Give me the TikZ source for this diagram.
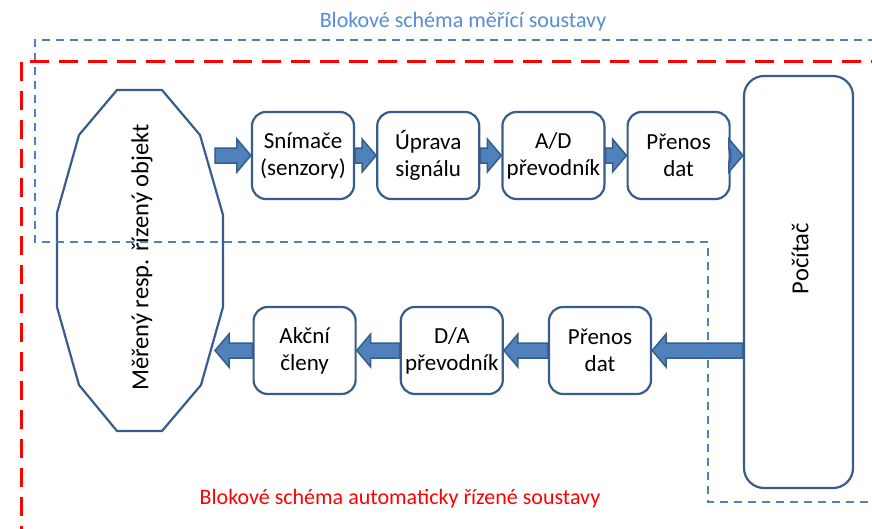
\documentclass[tikz,border=0pt]{standalone}
\usepackage{fontspec}
\setmainfont{Carlito}
\usepackage{tikz}
\usetikzlibrary{calc,positioning}
\definecolor{boxline}{RGB}{56,93,138}
\definecolor{boxfill}{RGB}{79,129,189}
\definecolor{titleblue}{RGB}{85,142,213}
\tikzset{
  % node options
  block/.style={rectangle,rounded corners=14pt,draw=boxline,line width=2.2pt,fill=white,
    minimum width=102pt,minimum height=87pt,inner sep=0pt,align=center,
    font=\fontsize{23}{27}\selectfont},
  pcblock/.style={block,rounded corners=20pt,minimum width=109pt,minimum height=412pt},
  vtext/.style={rotate=90,font=\fontsize{24.5}{28}\selectfont},
  frametext/.style={font=\fontsize{22}{26}\selectfont},
  % path options
  objline/.style={draw=boxline,line width=2.2pt,line join=miter},
  flow/.style={fill=boxfill,draw=boxline,line width=1.5pt,line join=miter},
  measframe/.style={draw=boxfill,line width=2.2pt,dash pattern=on 8pt off 6pt},
  ctrlframe/.style={draw=red,line width=3pt,dash pattern=on 19pt off 10pt},
}
% block arrow from #1 to #2
\newcommand{\flowarrow}[2]{%
  \coordinate (hb) at ($(#2)!14pt!(#1)$);
  \filldraw[flow] ($(#1)!7.5pt!90:(#2)$) -- ($(hb)!7.5pt!-90:(#1)$)
    -- ($(hb)!16.5pt!-90:(#1)$) -- (#2) -- ($(hb)!16.5pt!90:(#1)$)
    -- ($(hb)!7.5pt!90:(#1)$) -- ($(#1)!7.5pt!-90:(#2)$) -- cycle;}

\begin{document}
\begin{tikzpicture}[x=1pt,y=-1pt]
  \clip (0,0) rectangle (872,528);
  \fill[white] (0,0) rectangle (872,528);
  % object
  \draw[objline] (117,90) -- (162,90) -- (200,135) -- (223,215) -- (223,307) -- (201,385)
    -- (162,431) -- (117,431) -- (79,385) -- (57,307) -- (57,213) -- (79,135) -- cycle;
  \node[vtext] (obj) at (142,257.5) {Měřený resp. řízený objekt};
  \coordinate (objout) at (215,155.5);
  \coordinate (objin) at (215,350.5);
  % measuring chain
  \node[block] (snim) at (303,155.5) {Snímače\\(senzory)};
  \node[block,right=21pt of snim] (uprava) {Úprava\\signálu};
  \node[block,right=21pt of uprava] (ad) {A/D\\převodník};
  \node[block,right=21pt of ad] (prenosA) {Přenos\\dat};
  \node[pcblock] (pc) at (798.5,282) {};
  \node[vtext] (pctext) at (800,258.5) {Počítač};
  % control chain
  \node[block] (prenosB) at (600,350.5) {Přenos\\dat};
  \node[block,left=44pt of prenosB] (da) {D/A\\převodník};
  \node[block,left=43pt of da] (akcni) {Akční\\členy};
  \flowarrow{objout}{snim.west}
  \flowarrow{snim.east}{uprava.west}
  \flowarrow{uprava.east}{ad.west}
  \flowarrow{ad.east}{prenosA.west}
  \flowarrow{prenosA.east}{prenosA.east -| pc.west}
  \flowarrow{prenosB.east -| pc.west}{prenosB.east}
  \flowarrow{prenosB.west}{da.east}
  \flowarrow{da.west}{akcni.east}
  \flowarrow{akcni.west}{objin}
  % frames
  \draw[measframe] (890,40) -- (35,40) -- (35,242) -- (708,242) -- (708,502) -- (890,502);
  \draw[ctrlframe] (890,61) -- (21,61) -- (21,545);
  \node[frametext,text=titleblue] (meastitle) at (463,22) {Blokové schéma měřící soustavy};
  \node[frametext,text=red] (ctrltitle) at (400,499) {Blokové schéma automaticky řízené soustavy};
\end{tikzpicture}
\end{document}
